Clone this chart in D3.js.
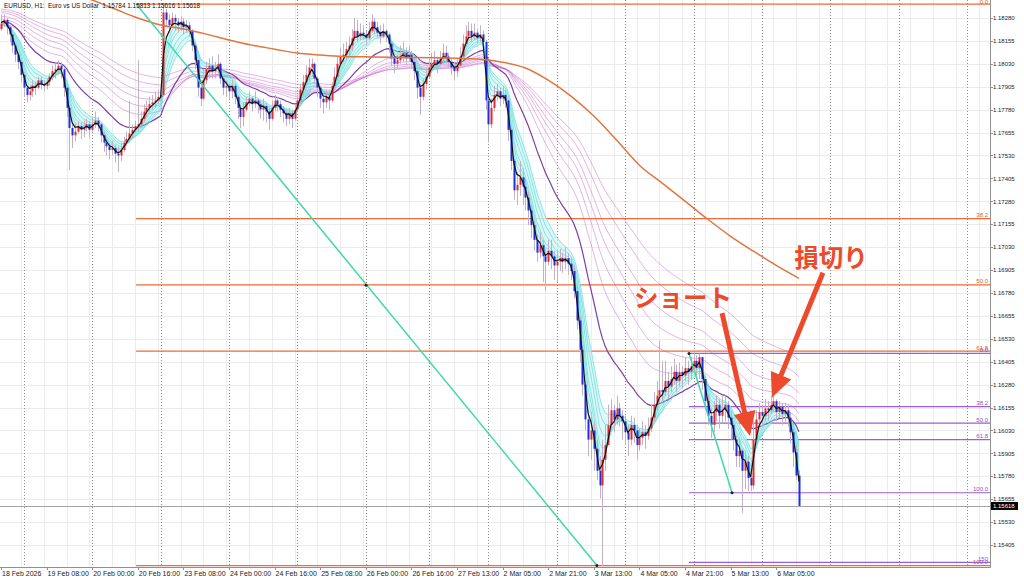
<!DOCTYPE html>
<html>
<head>
<meta charset="utf-8">
<title>EURUSD H1</title>
<script src="https://d3js.org/d3.v7.min.js"></script>
<style>
  body { margin: 0; background: #fff; }
  #chart { display: block; }
  .ax text { font: 6px "Liberation Sans", sans-serif; fill: #222; }
  .ax text.tl { font-size: 7px; }
</style>
</head>
<body>
<svg id="chart" width="1024" height="580"></svg>
<script>
// ---- price data (H1 bars) ----
var firstOpen = 1.1822;
var closes = [
  1.1825,1.1827,1.1823,1.1819,1.1813,1.1808,1.1804,1.1797,1.1790,1.1786,
  1.1788,1.1791,1.1790,1.1794,1.1792,1.1791,1.1793,1.1796,1.1799,1.1800,
  1.1802,1.1800,1.1790,1.1779,1.1768,1.1764,1.1766,1.1769,1.1767,1.1768,
  1.1770,1.1767,1.1770,1.1772,1.1770,1.1764,1.1760,1.1758,1.1756,1.1757,
  1.1754,1.1753,1.1756,1.1760,1.1762,1.1765,1.1767,1.1769,1.1770,1.1773,
  1.1777,1.1779,1.1781,1.1782,1.1783,1.1785,1.1786,1.1831,1.1827,1.1824,
  1.1828,1.1826,1.1824,1.1826,1.1823,1.1824,1.1821,1.1813,1.1805,1.1790,
  1.1784,1.1794,1.1800,1.1802,1.1799,1.1800,1.1803,1.1795,1.1790,1.1791,
  1.1788,1.1791,1.1785,1.1779,1.1774,1.1778,1.1782,1.1784,1.1781,1.1783,
  1.1781,1.1778,1.1780,1.1777,1.1773,1.1779,1.1783,1.1781,1.1778,1.1776,
  1.1773,1.1776,1.1773,1.1778,1.1783,1.1789,1.1793,1.1797,1.1801,1.1803,
  1.1795,1.1790,1.1784,1.1782,1.1785,1.1783,1.1791,1.1796,1.1803,1.1807,
  1.1808,1.1811,1.1813,1.1817,1.1821,1.1818,1.1820,1.1819,1.1817,1.1821,
  1.1826,1.1823,1.1820,1.1818,1.1821,1.1819,1.1814,1.1806,1.1803,1.1805,
  1.1807,1.1809,1.1806,1.1808,1.1804,1.1799,1.1790,1.1785,1.1792,1.1796,
  1.1801,1.1803,1.1805,1.1803,1.1806,1.1809,1.1807,1.1804,1.1801,1.1799,
  1.1802,1.1807,1.1814,1.1818,1.1821,1.1818,1.1820,1.1817,1.1819,1.1815,
  1.1783,1.1770,1.1779,1.1786,1.1788,1.1784,1.1786,1.1783,1.1767,1.1750,
  1.1734,1.1737,1.1741,1.1736,1.1730,1.1723,1.1715,1.1707,1.1700,1.1704,
  1.1698,1.1695,1.1701,1.1698,1.1693,1.1695,1.1697,1.1695,1.1697,1.1694,
  1.1690,1.1679,1.1663,1.1647,1.1628,1.1609,1.1598,1.1603,1.1593,1.1581,
  1.1573,1.1587,1.1595,1.1606,1.1614,1.1609,1.1615,1.1611,1.1608,1.1602,
  1.1598,1.1606,1.1603,1.1595,1.1599,1.1602,1.1600,1.1604,1.1610,1.1617,
  1.1622,1.1625,1.1624,1.1630,1.1627,1.1631,1.1635,1.1630,1.1635,1.1633,
  1.1637,1.1635,1.1638,1.1641,1.1637,1.1643,1.1631,1.1619,1.1611,1.1606,
  1.1613,1.1617,1.1611,1.1614,1.1617,1.1610,1.1606,1.1598,1.1589,1.1592,
  1.1581,1.1586,1.1577,1.1573,1.1598,1.1609,1.1613,1.1611,1.1615,1.1614,
  1.1617,1.1619,1.1613,1.1616,1.1612,1.1614,1.1610,1.1602,1.1591,1.15784,
  1.15618
];
var highs = [
  1.1830,1.1830,1.1828,1.1824,1.1819,1.1814,1.1809,1.1805,1.1798,1.1791,
  1.1791,1.1794,1.1793,1.1796,1.1796,1.1794,1.1795,1.1798,1.1802,1.1803,
  1.1805,1.1804,1.1801,1.1791,1.1780,1.1770,1.1771,1.1772,1.1771,1.1772,
  1.1773,1.1772,1.1774,1.1777,1.1774,1.1771,1.1766,1.1762,1.1760,1.1761,
  1.1759,1.1758,1.1760,1.1763,1.1766,1.1783,1.1770,1.1772,1.1805,1.1777,
  1.1781,1.1783,1.1785,1.1786,1.1788,1.1789,1.1790,1.1836,1.1833,1.1830,
  1.1831,1.1830,1.1828,1.1829,1.1828,1.1827,1.1826,1.1822,1.1815,1.1806,
  1.1794,1.1800,1.1804,1.1806,1.1807,1.1804,1.1808,1.1804,1.1796,1.1794,
  1.1792,1.1794,1.1792,1.1786,1.1781,1.1782,1.1785,1.1788,1.1785,1.1788,
  1.1784,1.1783,1.1784,1.1782,1.1779,1.1783,1.1786,1.1785,1.1783,1.1780,
  1.1778,1.1779,1.1778,1.1781,1.1786,1.1792,1.1797,1.1802,1.1806,1.1806,
  1.1804,1.1796,1.1791,1.1788,1.1789,1.1789,1.1793,1.1801,1.1807,1.1812,
  1.1814,1.1815,1.1818,1.1822,1.1828,1.1827,1.1825,1.1824,1.1821,1.1826,
  1.1830,1.1828,1.1826,1.1824,1.1825,1.1822,1.1820,1.1815,1.1807,1.1808,
  1.1813,1.1815,1.1812,1.1813,1.1810,1.1806,1.1800,1.1792,1.1795,1.1801,
  1.1806,1.1809,1.1810,1.1807,1.1810,1.1814,1.1813,1.1809,1.1806,1.1804,
  1.1806,1.1812,1.1819,1.1824,1.1826,1.1825,1.1825,1.1822,1.1824,1.1821,
  1.1816,1.1783,1.1784,1.1791,1.1792,1.1790,1.1791,1.1789,1.1784,1.1768,
  1.1751,1.1744,1.1750,1.1746,1.1740,1.1733,1.1726,1.1717,1.1710,1.1711,
  1.1707,1.1702,1.1707,1.1707,1.1701,1.1701,1.1702,1.1700,1.1703,1.1700,
  1.1697,1.1693,1.1682,1.1665,1.1649,1.1630,1.1614,1.1613,1.1608,1.1598,
  1.1589,1.1598,1.1606,1.1617,1.1620,1.1617,1.1622,1.1618,1.1614,1.1611,
  1.1606,1.1611,1.1610,1.1606,1.1604,1.1608,1.1606,1.1610,1.1617,1.1624,
  1.1630,1.1652,1.1641,1.1641,1.1635,1.1638,1.1642,1.1639,1.1640,1.1638,
  1.1643,1.1641,1.1643,1.1646,1.1644,1.1645,1.1641,1.1633,1.1622,1.1615,
  1.1619,1.1622,1.1620,1.1622,1.1622,1.1619,1.1614,1.1608,1.1600,1.1598,
  1.1593,1.1592,1.1589,1.1587,1.1608,1.1614,1.1618,1.1617,1.1620,1.1619,
  1.1622,1.1622,1.1620,1.1619,1.1618,1.1618,1.1617,1.1613,1.1604,1.1595,
  1.15813
];
var lows = [
  1.1821,1.1823,1.1819,1.1815,1.1809,1.1804,1.1800,1.1793,1.1785,1.1782,
  1.1783,1.1785,1.1786,1.1789,1.1789,1.1788,1.1789,1.1791,1.1794,1.1795,
  1.1797,1.1795,1.1785,1.1774,1.1745,1.1757,1.1761,1.1765,1.1762,1.1763,
  1.1766,1.1763,1.1766,1.1768,1.1766,1.1760,1.1755,1.1753,1.1751,1.1753,
  1.1749,1.1744,1.1750,1.1755,1.1758,1.1760,1.1762,1.1765,1.1766,1.1768,
  1.1771,1.1774,1.1777,1.1778,1.1779,1.1781,1.1781,1.1785,1.1823,1.1820,
  1.1823,1.1821,1.1820,1.1821,1.1819,1.1820,1.1818,1.1810,1.1800,1.1785,
  1.1780,1.1783,1.1792,1.1795,1.1795,1.1795,1.1797,1.1792,1.1786,1.1785,
  1.1783,1.1784,1.1781,1.1773,1.1768,1.1769,1.1777,1.1780,1.1777,1.1779,
  1.1776,1.1773,1.1772,1.1771,1.1767,1.1772,1.1777,1.1777,1.1774,1.1771,
  1.1769,1.1770,1.1768,1.1772,1.1777,1.1781,1.1786,1.1793,1.1794,1.1796,
  1.1792,1.1785,1.1779,1.1776,1.1779,1.1778,1.1782,1.1789,1.1795,1.1802,
  1.1804,1.1805,1.1807,1.1810,1.1815,1.1815,1.1816,1.1816,1.1813,1.1816,
  1.1820,1.1819,1.1817,1.1814,1.1817,1.1815,1.1809,1.1802,1.1798,1.1800,
  1.1803,1.1804,1.1802,1.1804,1.1800,1.1794,1.1784,1.1775,1.1783,1.1789,
  1.1795,1.1798,1.1801,1.1798,1.1802,1.1804,1.1803,1.1801,1.1797,1.1794,
  1.1796,1.1802,1.1808,1.1814,1.1816,1.1815,1.1816,1.1814,1.1815,1.1810,
  1.1778,1.1760,1.1768,1.1777,1.1783,1.1780,1.1781,1.1779,1.1761,1.1745,
  1.1729,1.1726,1.1731,1.1726,1.1723,1.1715,1.1708,1.1701,1.1695,1.1697,
  1.1684,1.1679,1.1693,1.1691,1.1685,1.1684,1.1690,1.1689,1.1691,1.1688,
  1.1685,1.1675,1.1658,1.1640,1.1622,1.1603,1.1589,1.1587,1.1581,1.1576,
  1.1566,1.1529,1.1581,1.1595,1.1603,1.1602,1.1606,1.1605,1.1598,1.1595,
  1.1589,1.1595,1.1596,1.1587,1.1592,1.1595,1.1593,1.1598,1.1602,1.1608,
  1.1614,1.1618,1.1619,1.1622,1.1620,1.1624,1.1628,1.1624,1.1627,1.1626,
  1.1630,1.1628,1.1631,1.1635,1.1633,1.1631,1.1625,1.1614,1.1606,1.1599,
  1.1602,1.1608,1.1604,1.1607,1.1608,1.1604,1.1598,1.1592,1.1583,1.1583,
  1.1558,1.1571,1.1570,1.1570,1.1571,1.1598,1.1606,1.1605,1.1608,1.1608,
  1.1612,1.1613,1.1608,1.1610,1.1606,1.1608,1.1605,1.1596,1.1583,1.1576,
  1.15616
];

// long moving average (orange), sampled every 8 bars
var maBar = [28,32,40,48,56,64,72,80,88,96,104,112,120,128,136,144,152,160,168,176,184,192,200,208,216,224,232,240,248,256,264,272,280];
var maVal = [1.18400,1.18378,1.18329,1.18280,1.18242,1.18220,1.18192,1.18160,1.18132,1.18110,1.18089,1.18078,
             1.18070,1.18068,1.18066,1.18065,1.18063,1.18060,1.18055,1.18039,1.18007,1.17941,1.17854,1.17745,
             1.17614,1.17477,1.17379,1.17281,1.17182,1.17089,1.17008,1.16931,1.16860];

// ribbon (EMA) periods and their values at the first bar
var blackPeriod = 3,  blackSeed = 1.1826;
var cyanPeriods = [4, 5, 6, 8, 10, 12];
var cyanSeeds   = [1.1826, 1.1825, 1.1825, 1.1824, 1.1824, 1.1823];
var purplePeriod = 25, purpleSeed = 1.1826;
var pinkPeriods = [40, 50, 60, 70, 85, 100];
var pinkSeeds   = [1.1824, 1.1827, 1.1829, 1.1831, 1.1832, 1.1833];

// fibonacci retracements
var fibLevels  = [0, 38.2, 50, 61.8, 100];
var fibA = { bar1: 47.4, p1: 1.18356, bar2: 209.1, p2: 1.15293 };
var fibLevelsB = [0, 38.2, 50, 61.8, 100, 150];
var fibB = { bar1: 241.4, p1: 1.1645, bar2: 256.5, p2: 1.1569 };
var trendDots = [[128.1, 1.16822], [209.1, 1.15293], [241.4, 1.1645], [256.5, 1.1569]];

// axes
var priceTicks = [1.18280,1.18155,1.18030,1.17905,1.17780,1.17655,1.17530,1.17405,1.17280,1.17155,1.17030,1.16905,
                  1.16780,1.16655,1.16530,1.16405,1.16280,1.16155,1.16030,1.15905,1.15780,1.15655,1.15530,1.15405];
var timeLabels = ["18 Feb 2026","19 Feb 08:00","20 Feb 00:00","20 Feb 16:00","23 Feb 08:00","24 Feb 00:00",
                  "24 Feb 16:00","25 Feb 08:00","26 Feb 00:00","26 Feb 16:00","27 Feb 13:00","2 Mar 05:00",
                  "2 Mar 21:00","3 Mar 13:00","4 Mar 05:00","4 Mar 21:00","5 Mar 13:00","6 Mar 05:00"];
var timeLabelBars = [0,16,32,48,64,80,96,112,128,144,160,176,192,208,224,240,256,272];
var dayBars = [8,32,56,80,104,128,150,171,195,219,243,267,291,315,339];
var lastPrice = 1.15618;
var titleText = "EURUSD, H1:  Euro vs US Dollar  1.15784 1.15813 1.15616 1.15618";

// annotations
var noteText  = ["ショート", "損切り"];
var noteBar   = [239.3, 291.2];
var notePrice = [1.1676, 1.1698];
var arrowFrom = [[253, 1.1667], [288.4, 1.1689]];
var arrowTo   = [[262.8, 1.1600], [270.5, 1.1621]];

// ---- drawing ----
var W = 990, H = 567;
var x = d3.scaleLinear().domain([0, 280]).range([1, 799]);
var y = d3.scaleLinear().domain([1.18280, 1.15405]).range([18, 545]);

var svg = d3.select("#chart");
svg.append("rect").attr("width", 1024).attr("height", 580).attr("fill", "#fff");
svg.append("defs").append("clipPath").attr("id", "clip")
    .append("rect").attr("width", W).attr("height", H);
var plot = svg.append("g").attr("clip-path", "url(#clip)");

// faint grid
plot.selectAll(".hg").data(priceTicks).enter().append("line")
    .attr("x1", 0).attr("x2", W)
    .attr("y1", d => Math.round(y(d)) + 0.5).attr("y2", d => Math.round(y(d)) + 0.5)
    .attr("stroke", "#ececec");
plot.selectAll(".vg").data(d3.range(-1, 350, 8)).enter().append("line")
    .attr("x1", d => Math.round(x(d)) + 0.5).attr("x2", d => Math.round(x(d)) + 0.5)
    .attr("y1", 0).attr("y2", H)
    .attr("stroke", "#ececec");
plot.selectAll(".dg").data(dayBars).enter().append("line")
    .attr("x1", d => Math.round(x(d)) + 0.5).attr("x2", d => Math.round(x(d)) + 0.5)
    .attr("y1", 0).attr("y2", H)
    .attr("stroke", "#8c8c8c").attr("stroke-dasharray", "1,2");

// fibonacci lines
function drawFib(f, levels, color, labelColor) {
    var g = plot.append("g");
    levels.forEach(function(l) {
        var p = f.p1 + (f.p2 - f.p1) * l / 100;
        var yy = y(p);
        g.append("line").attr("x1", x(f.bar1)).attr("x2", W).attr("y1", yy).attr("y2", yy)
            .attr("stroke", color).attr("stroke-width", 1.2);
        g.append("text").attr("x", W - 2).attr("y", Math.max(yy - 1.5, 3.5))
            .attr("text-anchor", "end")
            .style("font", '6px "Liberation Sans", sans-serif').attr("fill", labelColor)
            .text(l === 150 ? "150" : l.toFixed(1));
    });
}
drawFib(fibA, fibLevels, "#f26a38", "#e0602e");
drawFib(fibB, fibLevelsB, "#9a5ed8", "#8a52c8");

// current price line
plot.append("line").attr("x1", 0).attr("x2", W)
    .attr("y1", Math.round(y(lastPrice)) + 0.5).attr("y2", Math.round(y(lastPrice)) + 0.5)
    .attr("stroke", "#a4a4a4");

// ribbons
function ema(period, seed) {
    var a = 2 / (period + 1), v = seed;
    return closes.map(c => (v = v + a * (c - v)));
}
var line = d3.line().x((d, i) => x(i)).y(d => y(d));
var cyanLines = cyanPeriods.map((p, k) => ema(p, cyanSeeds[k]));
var blackLine = ema(blackPeriod, blackSeed);
var purpleLine = ema(purplePeriod, purpleSeed);
var pinkLines = pinkPeriods.map((p, k) => ema(p, pinkSeeds[k]));

var band = d3.area().x((d, i) => x(i))
    .y0((d, i) => y(d3.min(cyanLines.map(s => s[i]).concat([blackLine[i]]))))
    .y1((d, i) => y(d3.max(cyanLines.map(s => s[i]).concat([blackLine[i]]))));
plot.append("path").datum(closes).attr("d", band).attr("fill", "#d4f6f5").attr("opacity", 0.8);

plot.selectAll(".pink").data(pinkLines).enter().append("path")
    .attr("d", line).attr("fill", "none")
    .attr("stroke", "#c458c8").attr("stroke-opacity", 0.45).attr("stroke-width", 1);
plot.append("path").datum(purpleLine).attr("d", line).attr("fill", "none")
    .attr("stroke", "#7d3fa3").attr("stroke-width", 1.2);
plot.selectAll(".cyan").data(cyanLines).enter().append("path")
    .attr("d", line).attr("fill", "none")
    .attr("stroke", "#6fe0dc").attr("stroke-opacity", 0.8).attr("stroke-width", 1);

// candles
var bars = closes.map(function(c, i) {
    var o = i === 0 ? firstOpen : closes[i - 1];
    return { i: i, o: o, c: c, h: Math.max(highs[i], o, c), l: Math.min(lows[i], o, c) };
});
plot.selectAll(".wick").data(bars).enter().append("line")
    .attr("x1", d => Math.round(x(d.i)) + 0.5).attr("x2", d => Math.round(x(d.i)) + 0.5)
    .attr("y1", d => y(d.h)).attr("y2", d => y(d.l))
    .attr("stroke", "#c4b0c6").attr("stroke-width", 1);
plot.selectAll(".body").data(bars).enter().append("rect")
    .attr("x", d => Math.round(x(d.i)) - 0.5)
    .attr("width", 2)
    .attr("y", d => y(Math.max(d.o, d.c)))
    .attr("height", d => Math.max(1, Math.abs(y(d.o) - y(d.c))))
    .attr("fill", d => d.c >= d.o ? "#e62a2a" : "#1d2fe0");

plot.append("path").datum(blackLine).attr("d", line).attr("fill", "none")
    .attr("stroke", "#111").attr("stroke-width", 1.2);

// long MA
var maLine = d3.line().x(d => x(d[0])).y(d => y(d[1])).curve(d3.curveMonotoneX);
plot.append("path").datum(maBar.map((b, k) => [b, maVal[k]])).attr("d", maLine)
    .attr("fill", "none").attr("stroke", "#e0753f").attr("stroke-width", 1.5);

// fibonacci trend lines
[fibA, fibB].forEach(function(f) {
    plot.append("line")
        .attr("x1", x(f.bar1)).attr("y1", y(f.p1)).attr("x2", x(f.bar2)).attr("y2", y(f.p2))
        .attr("stroke", "#3ed8ad").attr("stroke-width", 1.5);
});
plot.selectAll(".dot").data(trendDots).enter().append("circle")
    .attr("cx", d => x(d[0])).attr("cy", d => y(d[1])).attr("r", 1.5).attr("fill", "#222");

// axes
var ax = svg.append("g").attr("class", "ax");
ax.append("line").attr("x1", W + 0.5).attr("x2", W + 0.5).attr("y1", 0).attr("y2", H + 1).attr("stroke", "#909090");
ax.append("line").attr("x1", 0).attr("x2", W + 1).attr("y1", H + 0.5).attr("y2", H + 0.5).attr("stroke", "#909090");
ax.selectAll(".yt").data(priceTicks).enter().append("line")
    .attr("x1", W).attr("x2", W + 3)
    .attr("y1", d => Math.round(y(d)) + 0.5).attr("y2", d => Math.round(y(d)) + 0.5)
    .attr("stroke", "#909090");
ax.selectAll(".yl").data(priceTicks).enter().append("text")
    .attr("x", W + 3).attr("y", d => y(d) + 2.2)
    .text(d => d.toFixed(5));
ax.selectAll(".xt").data(timeLabelBars).enter().append("line")
    .attr("x1", d => Math.round(x(d)) + 0.5).attr("x2", d => Math.round(x(d)) + 0.5)
    .attr("y1", H).attr("y2", H + 3).attr("stroke", "#909090");
ax.selectAll(".xl").data(timeLabels).enter().append("text")
    .attr("class", "tl")
    .attr("x", (d, k) => x(timeLabelBars[k]) + 1).attr("y", 576)
    .text(d => d);

// last price marker
ax.append("rect").attr("x", W + 1).attr("y", y(lastPrice) - 4).attr("width", 27).attr("height", 8).attr("fill", "#000");
ax.append("text").attr("x", W + 3).attr("y", y(lastPrice) + 2.2).style("fill", "#fff").text(lastPrice.toFixed(5));

// title
svg.append("text").attr("x", 4).attr("y", 8)
    .style("font", '6.4px "Liberation Sans", sans-serif').style("white-space", "pre").attr("fill", "#111")
    .text(titleText);

// annotations
var red = "#ec4a2b";
arrowFrom.forEach(function(a, k) {
    var x0 = x(a[0]), y0 = y(a[1]), x1 = x(arrowTo[k][0]), y1 = y(arrowTo[k][1]);
    var len = Math.hypot(x1 - x0, y1 - y0), ux = (x1 - x0) / len, uy = (y1 - y0) / len;
    var hl = 24, hw = 11;
    var bx = x1 - ux * hl, by = y1 - uy * hl;
    svg.append("line").attr("x1", x0).attr("y1", y0).attr("x2", bx + ux * 2).attr("y2", by + uy * 2)
        .attr("stroke", red).attr("stroke-width", 5);
    svg.append("polygon")
        .attr("points", [[x1, y1], [bx - uy * hw, by + ux * hw], [bx + uy * hw, by - ux * hw]].map(p => p.join(",")).join(" "))
        .attr("fill", red);
});
svg.selectAll(".note").data(noteText).enter().append("text")
    .attr("x", (d, k) => x(noteBar[k])).attr("y", (d, k) => y(notePrice[k]))
    .attr("text-anchor", "middle").attr("dominant-baseline", "central")
    .style("font", 'bold 24.5px "Noto Sans CJK JP", sans-serif').attr("fill", red)
    .text(d => d);
</script>
</body>
</html>
